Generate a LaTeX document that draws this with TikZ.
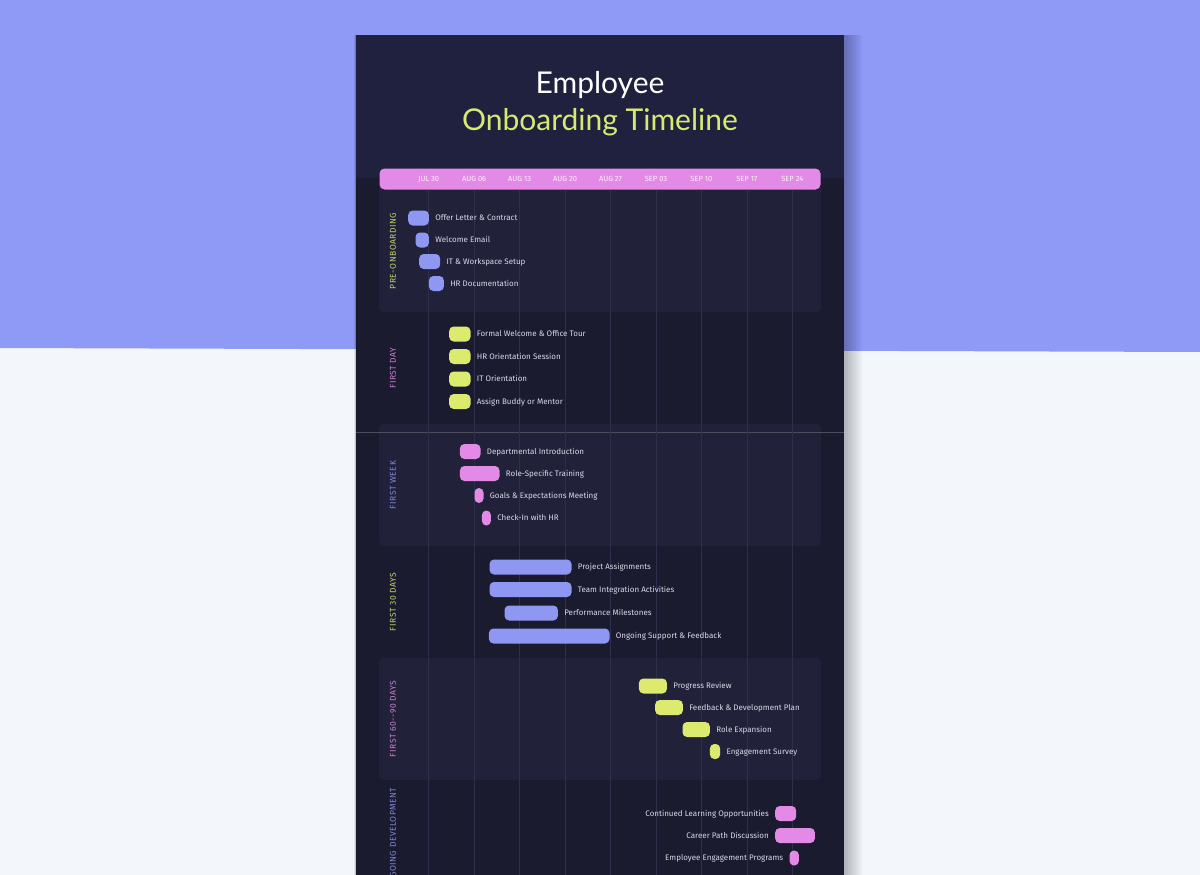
\documentclass[tikz,border=0pt]{standalone}
\usepackage{fontspec}
\setmainfont{Fira Sans}
\newfontfamily\titlefont{Lato}
\newfontfamily\phasefont{Fira Sans}[LetterSpace=6]
\usetikzlibrary{positioning}

\definecolor{backdrop}{HTML}{8F99F6}
\definecolor{paper}{HTML}{F3F7FB}
\definecolor{cardtop}{HTML}{20213E}
\definecolor{cardbody}{HTML}{1B1B2F}
\definecolor{panelfill}{HTML}{212239}
\definecolor{gridline}{HTML}{2E2F4A}
\definecolor{lav}{HTML}{8E97F2}
\definecolor{lime}{HTML}{DCEB6E}
\definecolor{orchid}{HTML}{E38AE6}
\definecolor{tasktext}{HTML}{D8D9E6}
\definecolor{titlelime}{HTML}{D6EA72}

\tikzset{
  bar/.style={rounded corners=4.5pt, minimum height=15pt, inner sep=0pt, anchor=west},
  tasklabel/.style={font=\fontsize{8}{9}\selectfont, text=tasktext, inner sep=0pt,
    text height=5.6pt, text depth=0pt},
  phase/.style={rotate=90, font=\phasefont\fontsize{8.5}{10}\selectfont, inner sep=0pt},
  datelabel/.style={font=\fontsize{7.5}{8}\selectfont, text=white!88!orchid, inner sep=0pt},
  phasepanel/.style={fill=panelfill, rounded corners=5pt}
}

\begin{document}
\begin{tikzpicture}[x=1pt,y=-1pt]
    \useasboundingbox (0,0) rectangle (1200,875);
    \clip (0,0) rectangle (1200,875);
    % The backdrop
    \fill[paper] (0,0) rectangle (1200,875);
    \fill[backdrop] (0,0) -- (1200,0) -- (1200,352) -- (0,348) -- cycle;
    % The card and its shadow
    \foreach \s in {1,...,9}
      \fill[black, opacity=0.03] (356-0.2*\s,35) rectangle (844+2*\s,880);
    \fill[cardbody] (356,35) rectangle (844,880);
    \fill[cardtop] (356,35) rectangle (844,178);
    % The title
    \node[font=\titlefont\fontsize{30}{34}\selectfont, text=white, anchor=base] (title) at (600,94) {Employee};
    \node[font=\titlefont\fontsize{30}{34}\selectfont, text=titlelime, anchor=base] (subtitle) at (600,130) {Onboarding Timeline};
    % The phase panels
    \fill[phasepanel] (379,180) rectangle (821,312);
    \fill[phasepanel] (379,424) rectangle (821,546);
    \fill[phasepanel] (379,658) rectangle (821,780);
    \draw[color=white!22!cardbody, line width=0.8pt] (356,432.3) -- (844,432.3);
    % The time scale
    \node[fill=orchid, rounded corners=5pt, minimum width=441pt, minimum height=21pt,
      inner sep=0pt, anchor=north west] (timescale) at (379.3,168.3) {};
    \foreach \d [count=\i from 0] in {JUL 30,AUG 06,AUG 13,AUG 20,AUG 27,SEP 03,SEP 10,SEP 17,SEP 24}{
      \draw[gridline, line width=0.6pt] (428.7+45.45*\i,189.5) -- (428.7+45.45*\i,880);
      \node[datelabel] (date\i) at (428.7+45.45*\i,179) {\d};
    }
    % The phase names
    \node[phase, text=lime!88!cardbody] (pre) at (393,251) {PRE-ONBOARDING};
    \node[phase, text=orchid!88!cardbody] (day) at (393,368) {FIRST DAY};
    \node[phase, text=lav!88!cardbody] (week) at (393,485) {FIRST WEEK};
    \node[phase, text=lime!88!cardbody] (month) at (393,602) {FIRST 30 DAYS};
    \node[phase, text=orchid!88!cardbody] (quarter) at (393,719) {FIRST 60--90 DAYS};
    \node[phase, text=lav!88!cardbody] (ongoing) at (393,839) {ONGOING DEVELOPMENT};
    % Pre-onboarding
    \foreach \n/\x/\w/\y/\t in {offer/408/20.7/218/Offer Letter \& Contract,
        welcome/415.3/13.4/240/Welcome Email,
        itsetup/419/21/261.5/IT \& Workspace Setup,
        hrdocs/428.7/15/283.5/HR Documentation}{
      \node[bar, fill=lav, minimum width=\w pt] (\n) at (\x,\y) {};
      \node[tasklabel, right=6pt of \n] (\n-text) {\t};
    }
    % First day
    \foreach \n/\x/\w/\y/\t in {tour/449/21.3/334/Formal Welcome \& Office Tour,
        hrsession/449/21.3/356.5/HR Orientation Session,
        itorient/449/21.3/379/IT Orientation,
        buddy/449/21.3/401.5/Assign Buddy or Mentor}{
      \node[bar, fill=lime, minimum width=\w pt] (\n) at (\x,\y) {};
      \node[tasklabel, right=6pt of \n] (\n-text) {\t};
    }
    % First week
    \foreach \n/\x/\w/\y/\t in {dept/459.7/20.6/451.5/Departmental Introduction,
        training/459.7/39.6/473.5/Role-Specific Training,
        goals/474.3/9/495.5/Goals \& Expectations Meeting,
        checkin/481.7/9/518/Check-In with HR}{
      \node[bar, fill=orchid, minimum width=\w pt] (\n) at (\x,\y) {};
      \node[tasklabel, right=6pt of \n] (\n-text) {\t};
    }
    % First 30 days
    \foreach \n/\x/\w/\y/\t in {projects/489.3/82/567/Project Assignments,
        team/489.3/82/589.5/Team Integration Activities,
        milestones/504.3/53.4/613/Performance Milestones,
        support/488.7/120.6/636/Ongoing Support \& Feedback}{
      \node[bar, fill=lav, minimum width=\w pt] (\n) at (\x,\y) {};
      \node[tasklabel, right=6pt of \n] (\n-text) {\t};
    }
    % First 60-90 days
    \foreach \n/\x/\w/\y/\t in {review/638.7/28/686/Progress Review,
        devplan/655/27.7/707.5/Feedback \& Development Plan,
        expansion/682.3/27.4/729.5/Role Expansion,
        survey/709.7/10.3/751.5/Engagement Survey}{
      \node[bar, fill=lime, minimum width=\w pt] (\n) at (\x,\y) {};
      \node[tasklabel, right=6pt of \n] (\n-text) {\t};
    }
    % Ongoing development
    \foreach \n/\x/\w/\y/\t in {learning/775/21/813.5/Continued Learning Opportunities,
        career/775/39.7/835.5/Career Path Discussion,
        programs/789.3/9.4/858/Employee Engagement Programs}{
      \node[bar, fill=orchid, minimum width=\w pt] (\n) at (\x,\y) {};
      \node[tasklabel, left=6pt of \n] (\n-text) {\t};
    }
\end{tikzpicture}
\end{document}
